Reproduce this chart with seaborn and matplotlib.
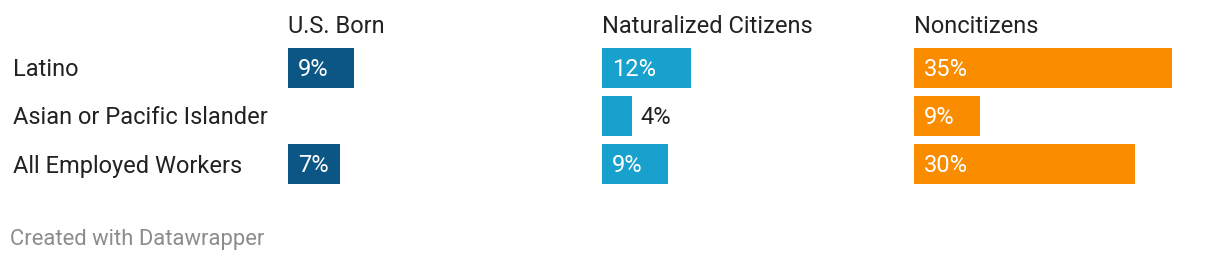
import numpy as np
import pandas as pd
import seaborn as sns
import matplotlib
matplotlib.use("Agg")
import matplotlib.pyplot as plt
from matplotlib.transforms import blended_transform_factory, offset_copy

sns.set_theme(style="white")
plt.rcParams['font.family'] = ['Roboto', 'DejaVu Sans']

categories = ["Latino", "Asian or Pacific Islander", "All Employed Workers"]
panels = ["U.S. Born", "Naturalized Citizens", "Noncitizens"]
us_born = [9, np.nan, 7]
naturalized = [12, 4, 9]
noncitizens = [35, 9, 30]
colors = ["#0b5685", "#18a1cd", "#fa8c00"]
footer = "Created with Datawrapper"

W, H = 1220, 260
fig = plt.figure(figsize=(W / 100, H / 100), dpi=100)

panel_left_px = [288, 602, 914]
panel_w_px = 295
top_px, bot_px = 44, 188
series = [us_born, naturalized, noncitizens]
FS = 17
text_color = "#222222"
DY = -2  # pixel shift down for text

for i, (name, vals, col) in enumerate(zip(panels, series, colors)):
    ax = fig.add_axes([panel_left_px[i] / W, (H - bot_px) / H,
                       panel_w_px / W, (bot_px - top_px) / H])
    df = pd.DataFrame({"cat": categories, "val": vals}).dropna()
    sns.barplot(data=df, x="val", y="cat", order=categories, orient="h",
                color=col, width=40 / 48, saturation=1, linewidth=0, ax=ax)
    ax.set_xlim(0, 40)
    ax.set_ylim(2.5, -0.5)
    ax.axis("off")
    ax.text(0, (bot_px - 33) / (bot_px - top_px), name, transform=ax.transAxes,
            ha="left", va="baseline", fontsize=FS, color=text_color)
    px_per_unit = panel_w_px / 40
    for j, v in enumerate(vals):
        if np.isnan(v):
            continue
        if v * px_per_unit > 50:
            ax.annotate(f"{v:.0f}%", (0, j), xytext=(10, DY), textcoords="offset pixels",
                        ha="left", va="center", fontsize=FS, color="white")
        else:
            ax.annotate(f"{v:.0f}%", (v, j), xytext=(9, DY), textcoords="offset pixels",
                        ha="left", va="center", fontsize=FS, color=text_color)
    if i == 0:
        tr = blended_transform_factory(fig.transFigure, ax.transData)
        tr = offset_copy(tr, fig=fig, x=0, y=DY, units="dots")
        for j, c in enumerate(categories):
            ax.text(13 / W, j, c, transform=tr, ha="left", va="center",
                    fontsize=FS, color=text_color)

fig.text(10 / W, 1 - 239 / H, footer, ha="left", va="center",
         fontsize=15.8, color="#8c8c8c")

fig.savefig("out.png", dpi=100)
